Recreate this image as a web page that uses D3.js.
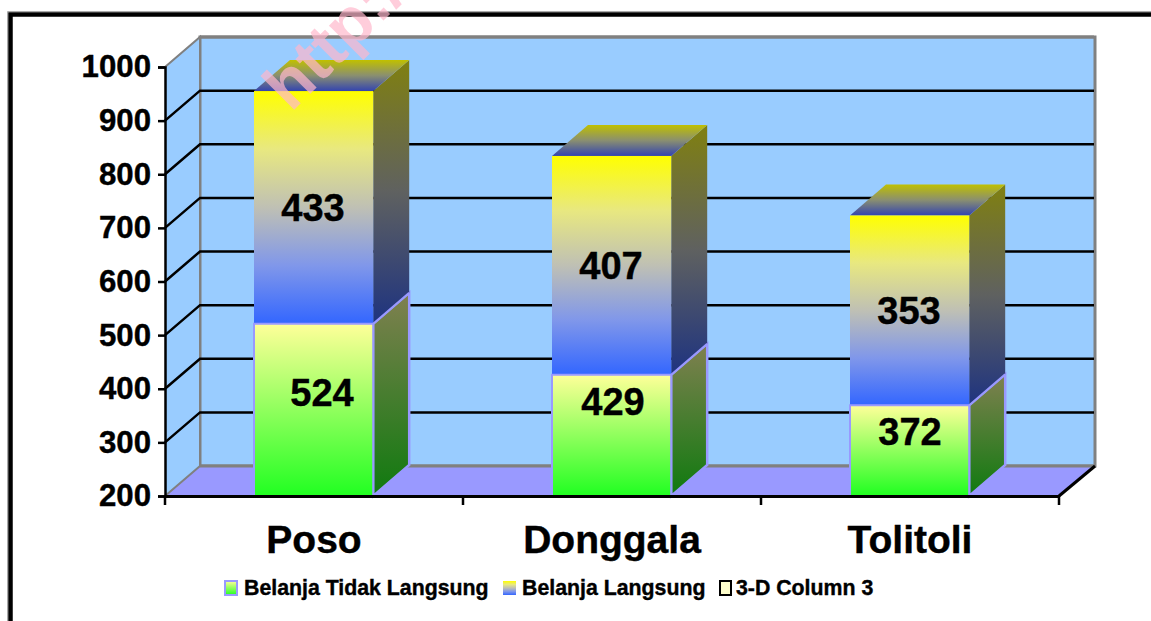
<!DOCTYPE html>
<html>
<head>
<meta charset="utf-8">
<title>Belanja</title>
<style>
html, body { margin: 0; padding: 0; background: #fff; overflow: hidden; }
svg { display: block; }
text { font-family: "Liberation Sans", Arial, sans-serif; font-weight: bold; fill: #000; stroke: #000; stroke-width: 0.4px; }
</style>
<script src="https://d3js.org/d3.v7.min.js"></script>
</head>
<body>
<div id="chart"></div>
<script>

var categories = ["Poso", "Donggala", "Tolitoli"];
var tidakLangsung = [524, 429, 372];
var langsung = [433, 407, 353];
var yTicks = [200, 300, 400, 500, 600, 700, 800, 900, 1000];
var legendLabels = ["Belanja Tidak Langsung", "Belanja Langsung", "3-D Column 3"];

var width = 1151, height = 621;

// depth of the 3d box
var dx = 35, dy = -30;

var x = d3.scaleBand().domain(categories).range([165, 1059]).paddingInner(0).paddingOuter(0);
var y = d3.scaleLinear().domain([200, 1000]).range([496, 67]);
var barWidth = x.bandwidth() * 0.4;

// hand placed labels of the lower blocks, as in the original
var lowLabelX = [8, 1, 0];
var lowLabelY = [406, 415, 445];

var svg = d3.select("#chart").append("svg").attr("width", width).attr("height", height);
var defs = svg.append("defs");

function grad(id, stops) {
  var g = defs.append("linearGradient").attr("id", id)
    .attr("x1", 0).attr("y1", 0).attr("x2", 0).attr("y2", 1);
  stops.forEach(function(s, i) {
    g.append("stop").attr("offset", i / (stops.length - 1)).attr("stop-color", s);
  });
}
grad("lowFront", ["#ffff99", "#22ff22"]);
grad("lowSide", ["#808050", "#0f7a0f"]);
grad("upFront", ["#ffff00", "#e8e880", "#bfc0b4", "#8097ea", "#3366ff"]);
grad("upSide", ["#808010", "#5f6160", "#1e3380"]);
grad("upTop", ["#c0c000", "#8a8f70", "#3344b0"]);

function poly(pts) {
  return d3.line()(pts) + "Z";
}

// frame
svg.append("path")
  .attr("d", "M1151,14.5H10.5V621")
  .attr("fill", "none").attr("stroke", "#000").attr("stroke-width", 4.5);
svg.append("path")
  .attr("d", "M1151,11.5H7.5V621")
  .attr("fill", "none").attr("stroke", "#aaa").attr("stroke-width", 1);

var x0 = x.range()[0], x1 = x.range()[1], y0 = y.range()[0], yT = y.range()[1];

// walls and floor
svg.append("path").attr("d", poly([[x0 + dx, y0 + dy], [x1 + dx + 1, y0 + dy], [x1 + dx + 1, yT + dy], [x0 + dx, yT + dy]]))
  .attr("fill", "#99ccff").attr("stroke", "#808080").attr("stroke-width", 3);
svg.append("path").attr("d", poly([[x0, y0], [x0 + dx, y0 + dy], [x0 + dx, yT + dy], [x0, yT]]))
  .attr("fill", "#99ccff");
svg.append("path").attr("d", poly([[x0, y0], [x0 + dx, y0 + dy], [x1 + dx + 1, y0 + dy], [x1, y0]]))
  .attr("fill", "#9999ff");
svg.append("path").attr("d", d3.line()([[x0, y0], [x0 + dx, y0 + dy], [x0 + dx, yT + dy], [x0, yT]]))
  .attr("fill", "none").attr("stroke", "#808080").attr("stroke-width", 2);
svg.append("path").attr("d", d3.line()([[x0 + dx, y0 + dy], [x1 + dx + 1, y0 + dy]]))
  .attr("stroke", "#808080").attr("stroke-width", 3);

// gridlines
yTicks.slice(1, -1).forEach(function(t) {
  svg.append("path")
    .attr("d", d3.line()([[x0, y(t)], [x0 + dx, y(t) + dy], [x1 + dx, y(t) + dy]]))
    .attr("fill", "none").attr("stroke", "#000").attr("stroke-width", 2.5);
});
svg.append("path")
  .attr("d", d3.line()([[x0 + dx, y(1000) + dy], [x1 + dx, y(1000) + dy]]))
  .attr("stroke", "#808080").attr("stroke-width", 3);

// bars
var bars = svg.selectAll(".bar").data(categories).enter().append("g").attr("class", "bar");

bars.each(function(d, i) {
  var g = d3.select(this);
  var left = x(d) + (x.bandwidth() - barWidth) / 2 - 0.4, right = left + barWidth;
  var ddx = dx + 1, ddy = dy - 1;
  var a = y(200), b = y(tidakLangsung[i]) + 1.5, c = y(tidakLangsung[i] + langsung[i]) + 1;

  // halo around the side, hides the gridlines
  g.append("path").attr("d", poly([[right, a], [right + ddx, a + ddy], [right + ddx, b + ddy], [right, b]]))
    .attr("fill", "url(#lowSide)").attr("stroke", "#9999ff").attr("stroke-width", 2.5);

  // upper block
  g.append("path").attr("d", poly([[right, b], [right + ddx, b + ddy], [right + ddx, c + ddy], [right, c]]))
    .attr("fill", "url(#upSide)");
  g.append("path").attr("d", poly([[left, c], [left + ddx, c + ddy], [right + ddx, c + ddy], [right, c]]))
    .attr("fill", "url(#upTop)");
  g.append("rect").attr("x", left).attr("y", c).attr("width", barWidth).attr("height", b - c)
    .attr("fill", "url(#upFront)");
  g.append("path").attr("d", d3.line()([[right, b], [right + ddx, b + ddy]]))
    .attr("stroke", "#9999ff").attr("stroke-width", 2);

  // lower block
  g.append("rect").attr("x", left).attr("y", b).attr("width", barWidth).attr("height", a - b - 1)
    .attr("fill", "url(#lowFront)");
  g.append("path").attr("d", d3.line()([[left, a - 1], [left, b], [right, b], [right, a - 1]]))
    .attr("fill", "none").attr("stroke", "#9999ff").attr("stroke-width", 2);

  // value labels
  g.append("text").attr("x", x(d) + x.bandwidth() / 2 + lowLabelX[i]).attr("y", lowLabelY[i])
    .attr("text-anchor", "middle").attr("font-size", 38).text(tidakLangsung[i]);
  g.append("text").attr("x", x(d) + x.bandwidth() / 2 - 1).attr("y", (b + c) / 2 + 14)
    .attr("text-anchor", "middle").attr("font-size", 38).text(langsung[i]);
});

// axes
var axisY = d3.axisLeft(y).tickValues(yTicks).tickFormat(d3.format("d")).tickSize(7).tickPadding(7);
var gy = svg.append("g").attr("transform", "translate(" + x0 + ",0)").call(axisY);
gy.select(".domain").attr("stroke", "#000").attr("stroke-width", 2.5);
gy.selectAll(".tick line").attr("stroke", "#000").attr("stroke-width", 2.5);
gy.selectAll("text").attr("font-size", 31.2).attr("font-family", null);

var axisX = d3.axisBottom(x).tickValues([]).tickSize(0);
var gx = svg.append("g").attr("transform", "translate(0," + y0 + ")").call(axisX);
gx.select(".domain").attr("stroke", "#000").attr("stroke-width", 3);
d3.range(categories.length + 1).forEach(function(i) {
  var px = x0 + x.bandwidth() * i;
  svg.append("line").attr("x1", px).attr("x2", px).attr("y1", y0).attr("y2", y0 + 9)
    .attr("stroke", "#000").attr("stroke-width", 2.5);
});
svg.selectAll(".cat").data(categories).enter().append("text").attr("class", "cat")
  .attr("x", function(d) { return x(d) + x.bandwidth() / 2; })
  .attr("y", 553)
  .attr("text-anchor", "middle").attr("font-size", 39)
  .text(function(d) { return d; });
svg.append("path").attr("d", d3.line()([[x1, y0], [x1 + dx + 1, y0 + dy]]))
  .attr("stroke", "#000").attr("stroke-width", 3);

// legend
var legendX = [244, 522, 736];
var legendSwatch = [
  { x: 225, w: 12, fill: "url(#lowFront)", stroke: "#9999ff" },
  { x: 503, w: 13, fill: "url(#upFront)", stroke: "none" },
  { x: 720, w: 11, fill: "#ffffcc", stroke: "#000" }
];
legendLabels.forEach(function(l, i) {
  var s = legendSwatch[i];
  svg.append("rect").attr("x", s.x).attr("y", 581).attr("width", s.w).attr("height", 14)
    .attr("fill", s.fill).attr("stroke", s.stroke).attr("stroke-width", 2);
  svg.append("text").attr("x", legendX[i]).attr("y", 595).attr("font-size", 21.3).text(l);
});

// watermark
svg.append("text")
  .attr("transform", "translate(291,113) rotate(-45)")
  .attr("font-size", 66)
  .style("fill", "#ffb8cd").style("stroke", "none")
  .style("opacity", 0.7)
  .text("http://");

</script>
</body>
</html>
